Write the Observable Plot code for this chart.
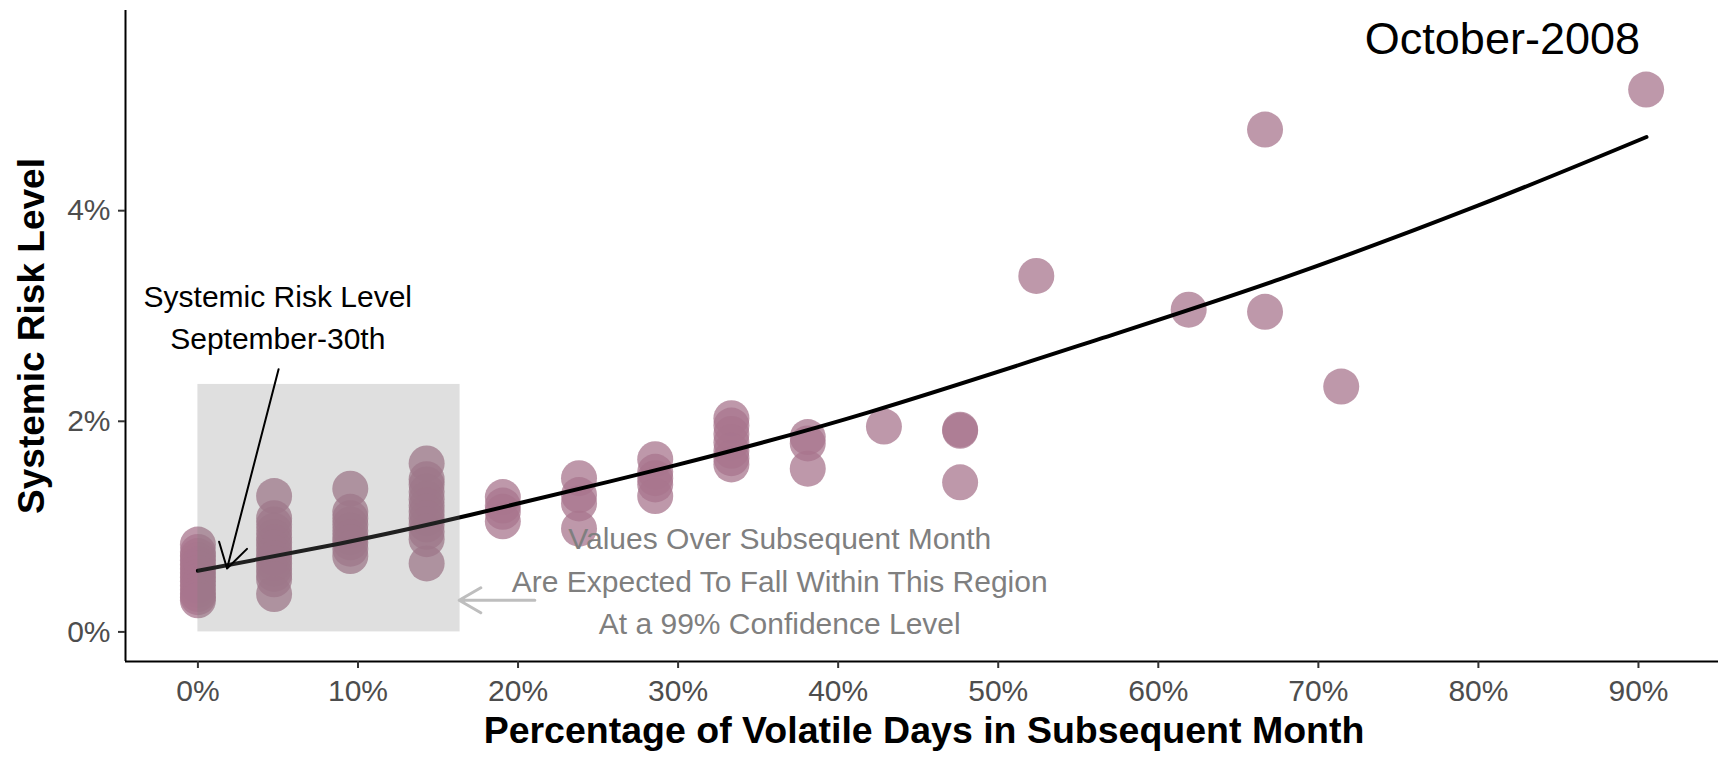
<!DOCTYPE html>
<html>
<head>
<meta charset="utf-8">
<script src="https://cdn.jsdelivr.net/npm/d3@7"></script>
<script src="https://cdn.jsdelivr.net/npm/@observablehq/plot@0.6"></script>
<style>
  body { margin: 0; background: #ffffff; }
  #chart svg { display: block; }
</style>
</head>
<body>
<div id="chart"></div>
<script>
// ---- Data (x = share of volatile days in subsequent month, y = systemic risk level in %) ----
const pointX = [
  0,0,0,0,0,0,0,0,0,0,0,0,0,0,
  0.0476,0.0476,0.0476,0.0476,0.0476,0.0476,0.0476,0.0476,0.0476,0.0476,0.0476,0.0476,0.0476,0.0476,
  0.0952,0.0952,0.0952,0.0952,0.0952,0.0952,0.0952,0.0952,0.0952,
  0.1429,0.1429,0.1429,0.1429,0.1429,0.1429,0.1429,0.1429,0.1429,0.1429,0.1429,0.1429,
  0.1905,0.1905,0.1905,0.1905,
  0.2381,0.2381,0.2381,0.2381,
  0.2857,0.2857,0.2857,0.2857,0.2857,
  0.3333,0.3333,0.3333,0.3333,0.3333,0.3333,0.3333,
  0.3810,0.3810,0.3810,
  0.4286,
  0.4762,0.4762,0.4762,
  0.5238,
  0.6190,
  0.6667,0.6667,
  0.7143,
  0.9048
];
const pointY = [
  0.83,0.76,0.72,0.68,0.64,0.60,0.56,0.52,0.48,0.44,0.40,0.36,0.33,0.30,
  1.29,1.08,1.02,0.96,0.90,0.85,0.80,0.75,0.70,0.65,0.60,0.55,0.50,0.36,
  1.36,1.14,1.08,1.02,0.96,0.90,0.85,0.79,0.72,
  1.60,1.45,1.40,1.33,1.26,1.20,1.14,1.08,1.02,0.95,0.88,0.65,
  1.28,1.20,1.14,1.05,
  1.46,1.30,1.22,0.98,
  1.64,1.52,1.46,1.40,1.29,
  2.03,1.96,1.88,1.80,1.72,1.65,1.59,
  1.85,1.79,1.55,
  1.95,
  1.92,1.91,1.42,
  3.38,
  3.06,
  4.77,3.04,
  2.33,
  5.15
];
// fitted curve
const fitX = [0, 0.089, 0.17, 0.295, 0.42, 0.563, 0.676, 0.80, 0.905];
const fitY = [0.58, 0.84, 1.11, 1.57, 2.09, 2.78, 3.35, 4.05, 4.70];

const xTicks = [0, 0.1, 0.2, 0.3, 0.4, 0.5, 0.6, 0.7, 0.8, 0.9];
const yTicks = [0, 2, 4];
const xDomain = [-0.04524, 0.95];
const yDomain = [-0.281, 5.901];

// confidence region
const regionX = [0, 0.1638];
const regionY = [0, 2.35];

// annotations (data units)
const monthLabel = ["October-2008"];
const monthAt = [0.815, 5.62];
const riskLabel = ["Systemic Risk Level\nSeptember-30th"];
const riskLabelAt = [0.0499, 2.69];
const riskArrow = [0.0504, 2.495, 0.0182, 0.602];
const regionLabel = ["Values Over Subsequent Month\nAre Expected To Fall Within This Region\nAt a 99% Confidence Level"];
const regionLabelAt = [0.3635, -0.024];
const regionArrow = [0.2105, 0.30, 0.1632, 0.30];

const xTitle = "Percentage of Volatile Days in Subsequent Month";
const yTitle = "Systemic Risk Level";

// ---- build table ----
const points = pointX.map((x, i) => ({x, y: pointY[i]}));
const fit = fitX.map((x, i) => ({x, y: fitY[i]}));
const FONT = "'Liberation Sans', Arial, Helvetica, sans-serif";

const chart = Plot.plot({
  width: 1718,
  height: 759,
  marginLeft: 125,
  marginRight: 0,
  marginTop: 10,
  marginBottom: 98,
  style: {fontFamily: FONT, background: "#ffffff", color: "#000"},
  x: {domain: xDomain, axis: null},
  y: {domain: yDomain, axis: null},
  marks: [
    Plot.dot(points, {x: "x", y: "y", r: 18, fill: "#a8768e", fillOpacity: 0.75, stroke: "none"}),
    Plot.line(fit, {x: "x", y: "y", curve: "natural", stroke: "#000", strokeWidth: 4}),
    Plot.rect([{}], {x1: () => regionX[0], x2: () => regionX[1], y1: () => regionY[0], y2: () => regionY[1], fill: "#7f7f7f", fillOpacity: 0.25}),
    Plot.arrow([riskArrow], {x1: d => d[0], y1: d => d[1], x2: d => d[2], y2: d => d[3], stroke: "#000", strokeWidth: 2, headLength: 21, headAngle: 62}),
    Plot.arrow([regionArrow], {x1: d => d[0], y1: d => d[1], x2: d => d[2], y2: d => d[3], stroke: "#bebebe", strokeWidth: 3, headLength: 12.5, headAngle: 60}),
    Plot.text(monthLabel, {x: () => monthAt[0], y: () => monthAt[1], text: d => d, fontSize: 45, lineAnchor: "middle", fill: "#000"}),
    Plot.text(riskLabel, {x: () => riskLabelAt[0], y: () => riskLabelAt[1], text: d => d, fontSize: 30, lineAnchor: "bottom", lineHeight: 1.4, fill: "#000"}),
    Plot.text(regionLabel, {x: () => regionLabelAt[0], y: () => regionLabelAt[1], text: d => d, fontSize: 30, lineAnchor: "bottom", lineHeight: 1.43, fill: "#7f7f7f"}),
    // axes
    Plot.ruleY([yDomain[0]], {stroke: "#000", strokeWidth: 2}),
    Plot.ruleX([xDomain[0]], {stroke: "#000", strokeWidth: 2}),
    Plot.axisX(xTicks, {tickSize: 7, tickPadding: 11, fontSize: 30, stroke: "#333333", strokeWidth: 2, fill: "#4d4d4d", tickFormat: d => Math.round(d * 100) + "%", label: null}),
    Plot.axisY(yTicks, {tickSize: 7, tickPadding: 8, fontSize: 30, stroke: "#333333", strokeWidth: 2, fill: "#4d4d4d", tickFormat: d => d + "%", label: null}),
    Plot.text([xTitle], {frameAnchor: "bottom", dx: 2, dy: 81, text: d => d, fontSize: 37.5, fontWeight: "bold", lineAnchor: "bottom", fill: "#000"}),
    Plot.text([yTitle], {frameAnchor: "left", dx: -82, rotate: -90, textAnchor: "middle", text: d => d, fontSize: 37, fontWeight: "bold", lineAnchor: "bottom", fill: "#000"})
  ]
});
document.getElementById("chart").appendChild(chart);
</script>
</body>
</html>
